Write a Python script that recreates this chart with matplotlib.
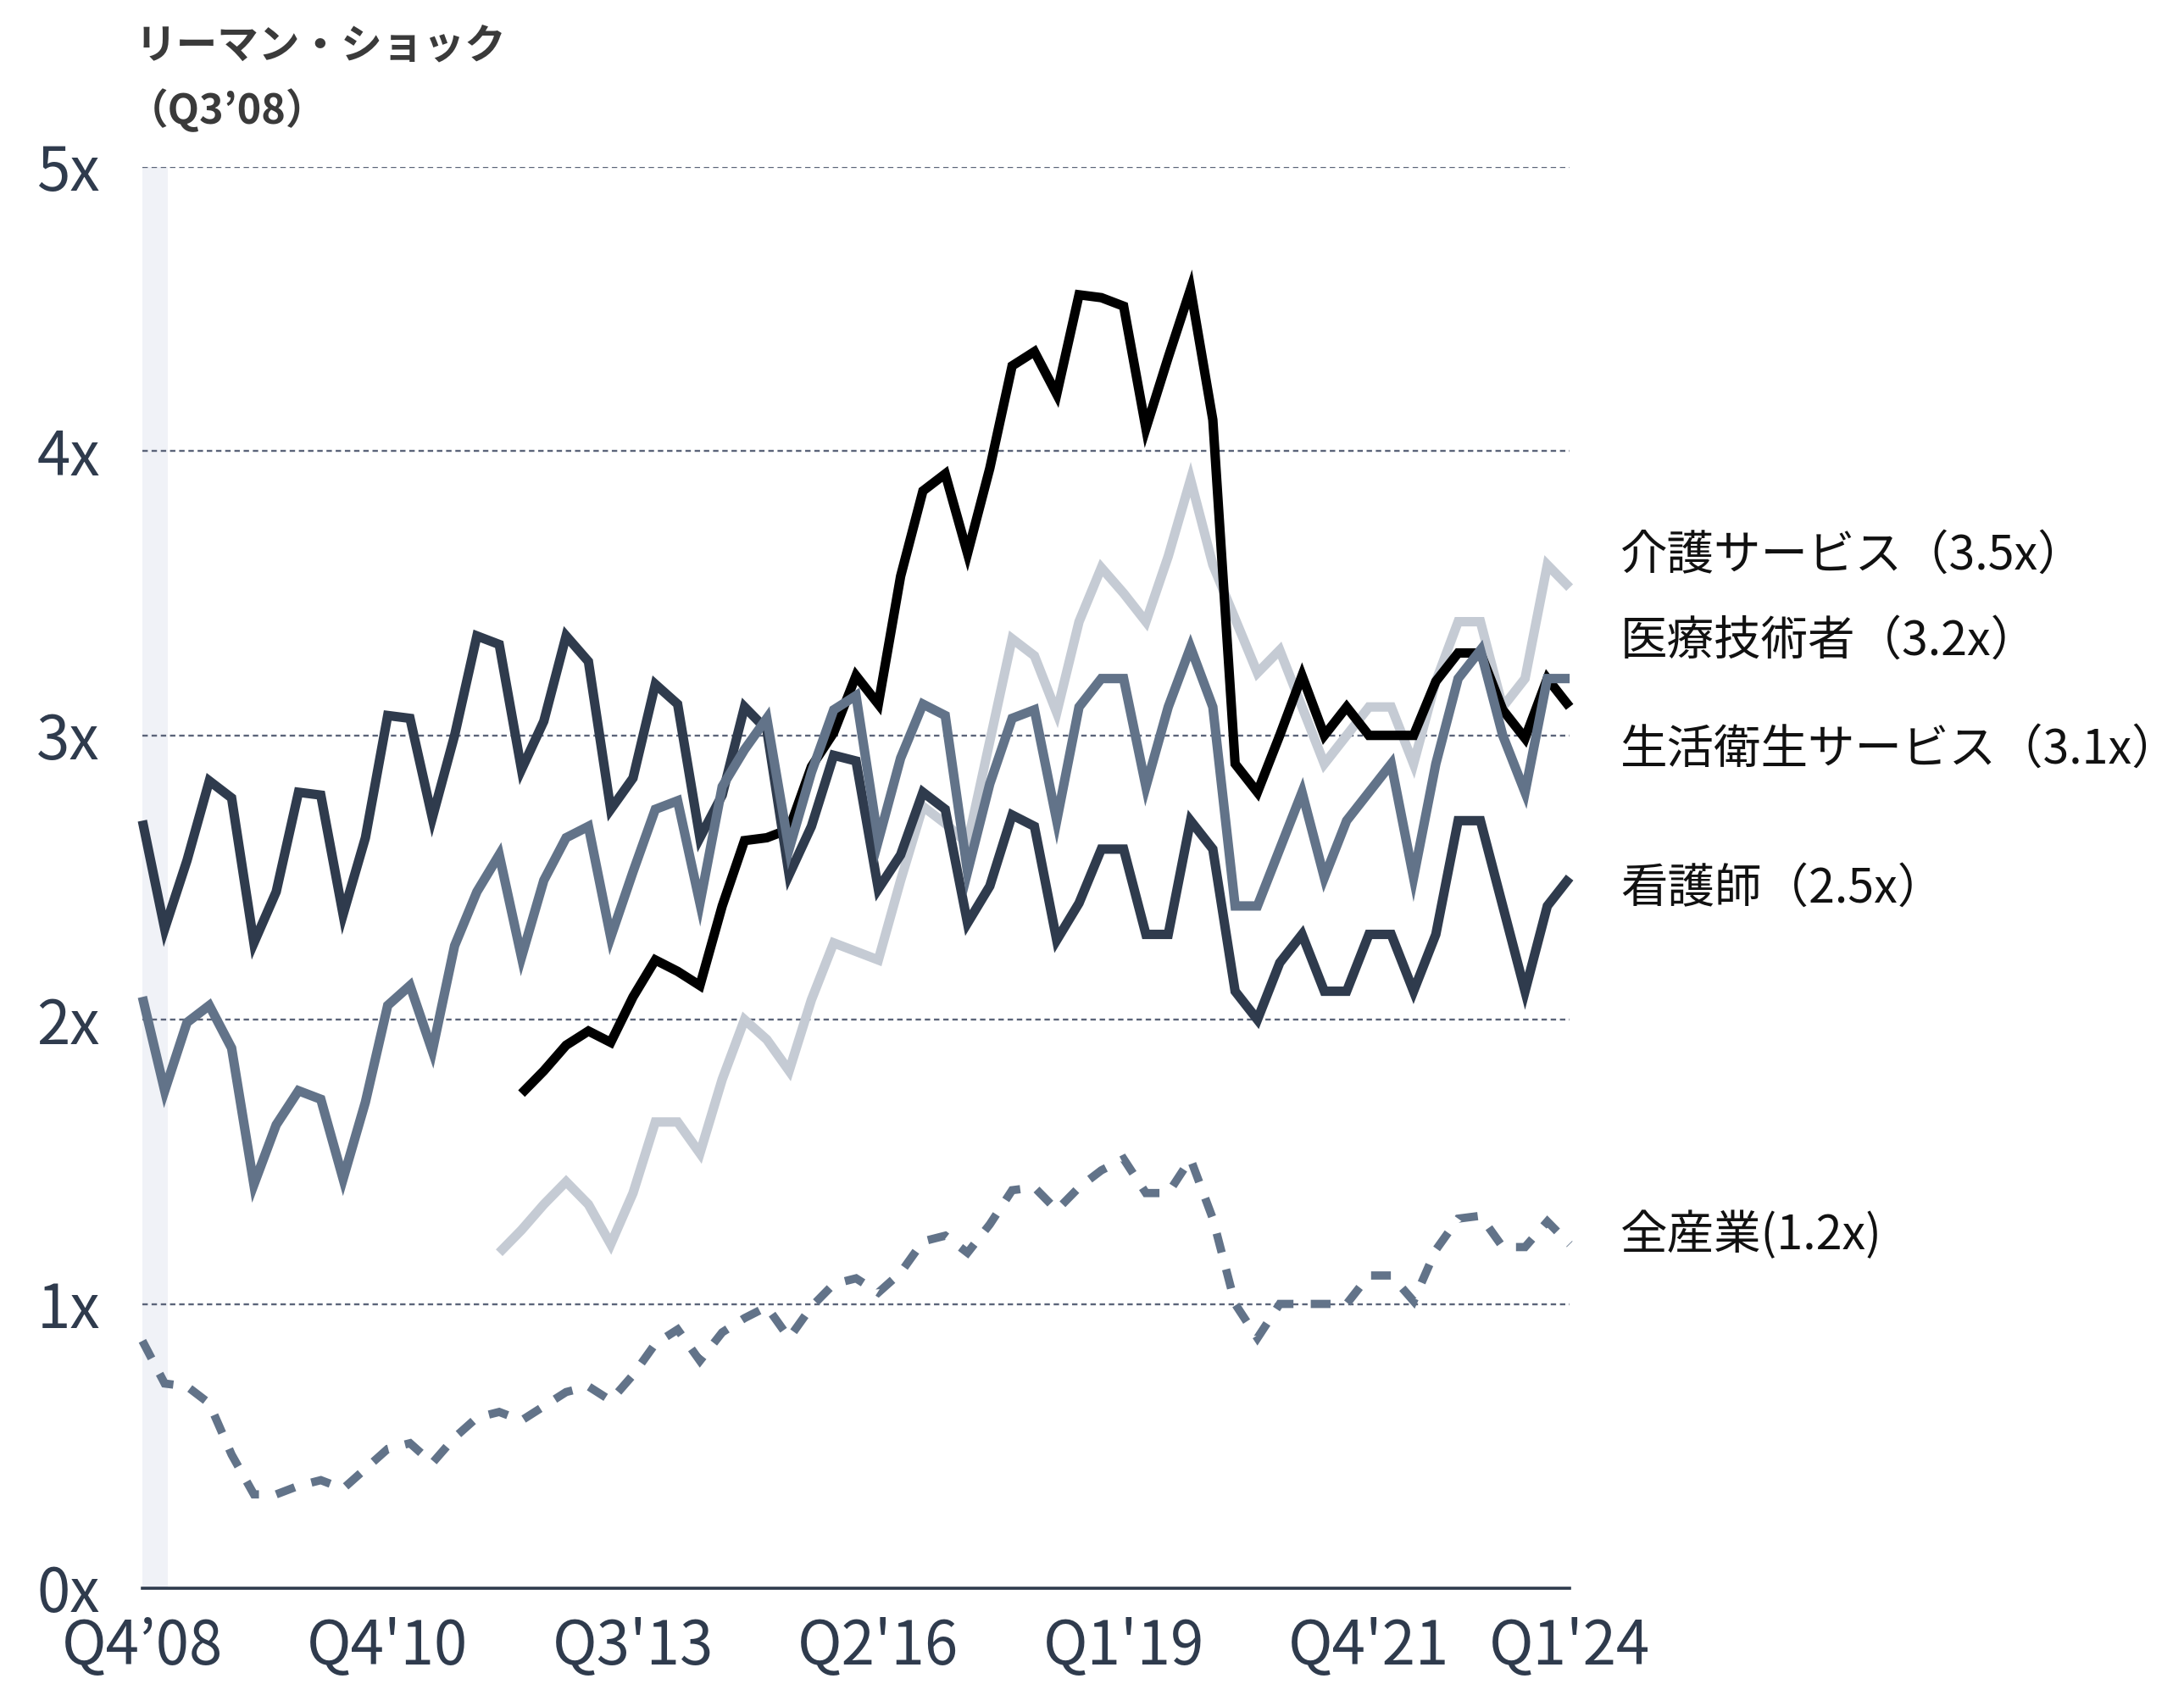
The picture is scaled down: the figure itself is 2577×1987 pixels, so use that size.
import numpy as np
import matplotlib
matplotlib.use("Agg")
import matplotlib.pyplot as plt

plt.rcParams['font.family'] = ['Noto Sans CJK JP', 'DejaVu Sans']

nan = np.nan

# quarterly ratio data (65 points)
quarters = np.arange(65)
tick_pos = [0, 11, 22, 33, 44, 55, 64]
tick_labels = ["Q4’08", "Q4'10", "Q3'13", "Q2'16", "Q1'19", "Q4'21", "Q1'24"]

nurse = [2.70, 2.32, 2.56, 2.84, 2.78, 2.27, 2.45, 2.80, 2.79, 2.37,
         2.64, 3.07, 3.06, 2.71, 3.00, 3.35, 3.32, 2.88, 3.05, 3.35,
         3.26, 2.74, 2.85, 3.18, 3.11, 2.64, 2.79, 3.10, 3.02, 2.51,
         2.68, 2.93, 2.91, 2.46, 2.58, 2.80, 2.74, 2.34, 2.47, 2.72,
         2.68, 2.28, 2.41, 2.60, 2.60, 2.30, 2.30, 2.70, 2.60, 2.10,
         2.00, 2.20, 2.30, 2.10, 2.10, 2.30, 2.30, 2.10, 2.30, 2.70,
         2.70, 2.40, 2.10, 2.40, 2.50]

medtech = [2.08, 1.75, 1.99, 2.05, 1.90, 1.42, 1.63, 1.75, 1.72, 1.44,
           1.71, 2.05, 2.12, 1.89, 2.26, 2.45, 2.58, 2.22, 2.49, 2.64,
           2.68, 2.29, 2.52, 2.74, 2.77, 2.41, 2.82, 2.95, 3.06, 2.60,
           2.87, 3.09, 3.14, 2.63, 2.92, 3.11, 3.07, 2.52, 2.83, 3.06,
           3.09, 2.70, 3.10, 3.20, 3.20, 2.82, 3.10, 3.31, 3.10, 2.40,
           2.40, 2.60, 2.80, 2.50, 2.70, 2.80, 2.90, 2.50, 2.90, 3.20,
           3.30, 3.00, 2.80, 3.20, 3.20]

hygiene = [nan] * 17 + [
    1.74, 1.82, 1.91, 1.96, 1.92, 2.08, 2.21, 2.17, 2.12, 2.40,
    2.63, 2.64, 2.67, 2.89, 3.01, 3.21, 3.11, 3.56, 3.86, 3.92,
    3.64, 3.94, 4.30, 4.35, 4.20, 4.55, 4.54, 4.51, 4.08, 4.33,
    4.57, 4.11, 2.90, 2.80, 3.00, 3.21, 3.00, 3.10, 3.00, 3.00,
    3.00, 3.19, 3.29, 3.29, 3.09, 2.99, 3.20, 3.10]

care = [nan] * 16 + [
    1.18, 1.26, 1.35, 1.43, 1.35, 1.21, 1.39, 1.64, 1.64, 1.53,
    1.79, 2.00, 1.93, 1.82, 2.07, 2.27, 2.24, 2.21, 2.49, 2.75,
    2.69, 2.62, 2.98, 3.34, 3.28, 3.08, 3.40, 3.59, 3.50, 3.40,
    3.63, 3.90, 3.60, 3.41, 3.22, 3.30, 3.10, 2.90, 3.00, 3.10,
    3.10, 2.90, 3.19, 3.40, 3.40, 3.10, 3.20, 3.60, 3.52]

all_ind = [0.87, 0.72, 0.71, 0.65, 0.47, 0.33, 0.33, 0.36, 0.38, 0.35,
           0.42, 0.49, 0.51, 0.44, 0.53, 0.60, 0.62, 0.59, 0.64, 0.69,
           0.71, 0.66, 0.75, 0.86, 0.91, 0.80, 0.90, 0.95, 0.99, 0.88,
           0.99, 1.07, 1.09, 1.04, 1.11, 1.22, 1.24, 1.18, 1.28, 1.40,
           1.41, 1.33, 1.41, 1.47, 1.51, 1.39, 1.39, 1.51, 1.30, 1.00,
           0.88, 1.00, 1.00, 1.00, 1.00, 1.10, 1.10, 1.01, 1.19, 1.30,
           1.31, 1.20, 1.20, 1.29, 1.21]

labels = ["介護サービス（3.5x）", "医療技術者（3.2x）", "生活衛生サービス（3.1x）",
          "看護師（2.5x）", "全産業(1.2x)"]
label_y = [3.63, 3.33, 2.95, 2.46, 1.24]

navy = "#2f3b4d"
slate = "#627389"
light = "#c5cbd4"

fig = plt.figure(figsize=(25.77, 19.87), dpi=100, facecolor="white")
ax = fig.add_axes([0.0652, 0.0569, 0.6535, 0.844])
ax.set_xlim(0, 64)
ax.set_ylim(0, 5)
for s in ax.spines.values():
    s.set_visible(False)

# Lehman shock band
ax.axvspan(0, 1.15, color="#f0f2f7", zorder=0, lw=0)

for v in range(1, 6):
    ax.axhline(v, color="#5b6479", lw=1.7, dashes=(2.7, 1.9), zorder=1)
ax.axhline(0, color=navy, lw=2.6, zorder=6, clip_on=False)

common = dict(solid_capstyle="butt", solid_joinstyle="miter", clip_on=False)
ax.plot(quarters, all_ind, color=slate, lw=7, dashes=(2.4, 2.1),
        dash_capstyle="butt", dash_joinstyle="miter", clip_on=False, zorder=2)
ax.plot(quarters, care, color=light, lw=8, zorder=3, **common)
ax.plot(quarters, hygiene, color="black", lw=8, zorder=4, **common)
ax.plot(quarters, nurse, color=navy, lw=8, zorder=5, **common)
ax.plot(quarters, medtech, color=slate, lw=8, zorder=5.5, **common)

ax.set_xticks(tick_pos)
ax.set_xticklabels(tick_labels)
ax.set_yticks(range(6))
ax.set_yticklabels([f"{v}x" for v in range(6)])
ax.tick_params(axis="both", length=0, labelsize=51, labelcolor=navy)
ax.tick_params(axis="x", pad=24)
ax.tick_params(axis="y", pad=36)

for txt, y in zip(labels, label_y):
    ax.text(66.27, y, txt, fontsize=40, color="#111111", va="center",
            ha="left", clip_on=False)

fig.text(160 / 2577, 1 - 54 / 1987, "リーマン・ショック", fontsize=35,
         fontweight="bold", color="#3a3a3a", va="center", ha="left")
fig.text(150 / 2577, 1 - 130 / 1987, "（Q3’08）", fontsize=35,
         fontweight="bold", color="#3a3a3a", va="center", ha="left")

fig.savefig("out.png", dpi=100, facecolor="white")
